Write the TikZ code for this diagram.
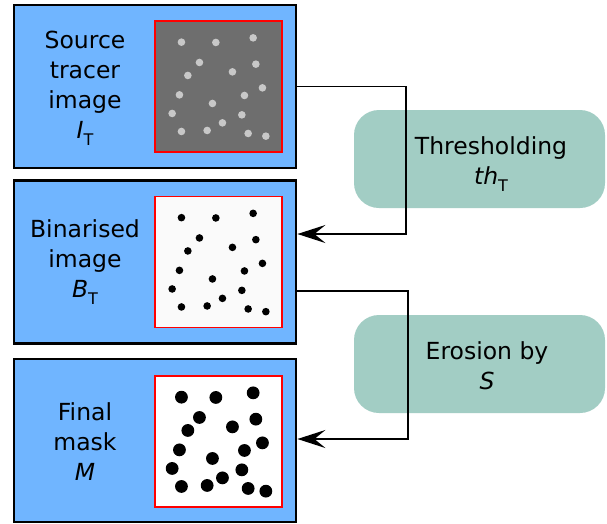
\documentclass[tikz,border=0pt]{standalone}
\usepackage{fontspec}
\setmainfont{DejaVu Sans}
\usetikzlibrary{arrows.meta}
\definecolor{panelblue}{HTML}{70B5FF}
\definecolor{opteal}{HTML}{A2CDC4}
\definecolor{srcgray}{HTML}{6E6E6E}
\definecolor{spotgray}{HTML}{C8C8C8}
\definecolor{binwhite}{HTML}{FAFAFA}
\newcommand{\subT}{\raisebox{-0.28em}{\fontsize{16}{16}\selectfont T}}

\begin{document}
\begin{tikzpicture}[x=1pt,y=-1pt,
	panel/.style={draw=black,line width=2.8pt,fill=panelblue,minimum width=282pt,minimum height=163pt,inner sep=0pt},
	shot/.style={draw=red,line width=1.7pt,minimum width=127pt,minimum height=131pt,inner sep=0pt},
	txt/.style={align=center,font=\fontsize{23.5}{30}\selectfont},
	op/.style={fill=opteal,rounded corners=25pt,minimum width=251pt,minimum height=98pt,inner sep=0pt},
	flow/.style={line width=1.9pt,-{Stealth[length=28pt,width=18pt,inset=11pt]}}]
	\useasboundingbox (0,0) rectangle (607,523);
	\fill[white] (0,0) rectangle (607,523);
	% image panels
	\node[panel] (src) at (155,86.5) {};
	\node[panel] (bin) at (155,262) {};
	\node[panel] (fin) at (155,440.5) {};
	\node[txt] (srctxt) at (85,88) {Source\\tracer\\image\\\textit{I}\subT};
	\node[txt] (bintxt) at (85,262) {Binarised\\image\\\textit{B}\subT};
	\node[txt] (fintxt) at (85,442) {Final\\mask\\\textit{M}};
	\node[shot,fill=srcgray] (srcimg) at (218.5,86.5) {};
	\node[shot,fill=binwhite] (binimg) at (218.5,262) {};
	\node[shot,fill=white] (finimg) at (218.5,441.5) {};
	\foreach \dx/\dy in {27.3/22,61.7/22.3,99/17.7,45.3/42.3,101.7/44,33.7/55.3,78.3/51.7,108.3/67.7,25.3/74.7,90.3/75.3,58.3/83.3,18/93.3,87.7/94.7,68.3/102.7,27.3/111.3,53/110.3,94/113.3,111.7/116}
	{
		\fill[spotgray] ([shift={(\dx,\dy)}]srcimg.north west) circle (3.8pt);
		\fill[black] ([shift={(\dx,\dy)}]binimg.north west) circle (3.8pt);
		\fill[black] ([shift={(\dx,\dy)}]finimg.north west) circle (6.4pt);
	}
	% operations
	\node[op] (thresh) at (479.5,159) {};
	\node[op] (erode) at (479.5,364) {};
	\node[txt] (threshtxt) at (491,164) {Thresholding\\\textit{th}\subT};
	\node[txt] (erodetxt) at (487,366) {Erosion by\\\textit{S}};
	\coordinate (bend1) at (406,234);
	\coordinate (bend2) at (408,439);
	\draw[flow] (src.east) -| (bend1) -- (bend1 -| bin.east);
	\draw[flow] ([yshift=-29pt]bin.east) -| (bend2) -- (bend2 -| fin.east);
\end{tikzpicture}
\end{document}
